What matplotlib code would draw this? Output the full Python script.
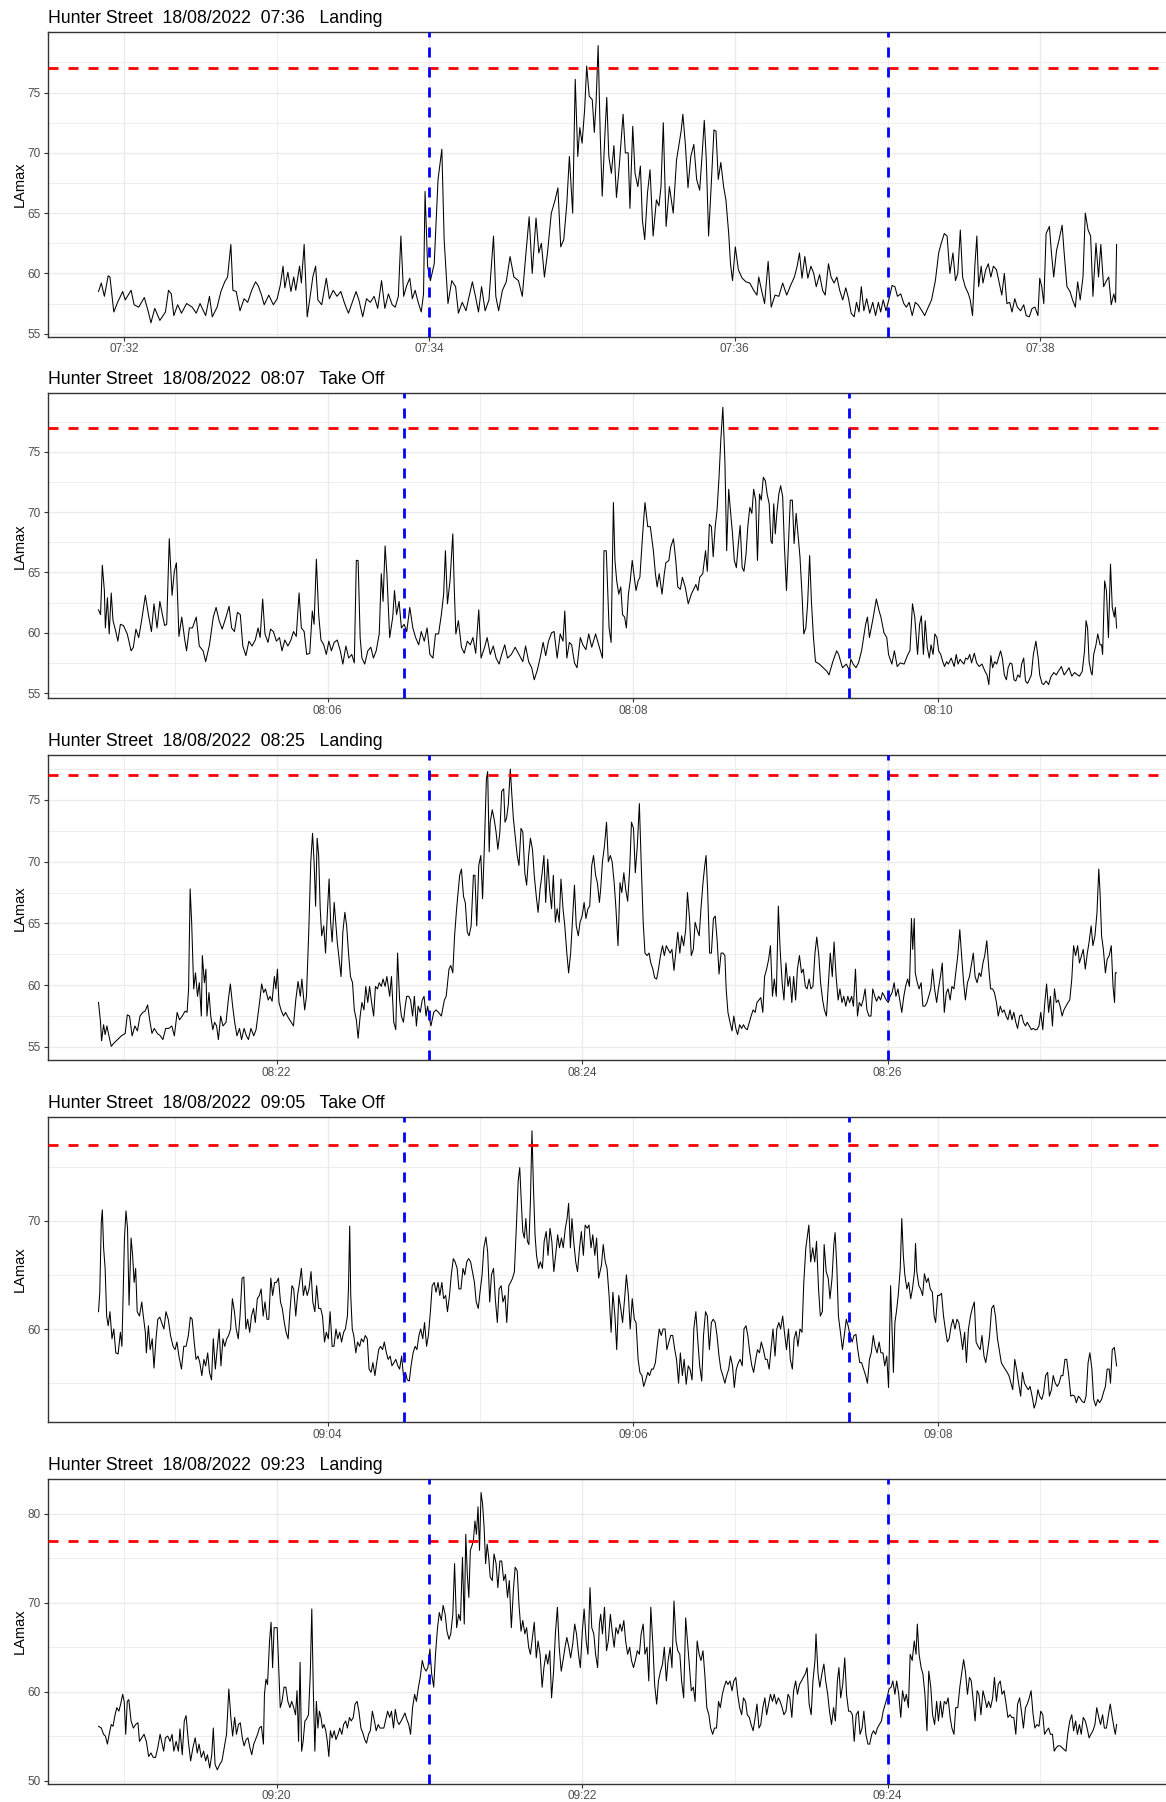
import matplotlib.pyplot as plt
import matplotlib.dates as mdates
import numpy as np
import pandas as pd

plt.rcParams['font.family'] = ['Liberation Sans', 'DejaVu Sans']

# rows: seconds after first sample, LAmax (dB)
ev_0736 = np.array([
    [0, 58.5], [1.1, 59.2], [2.3, 58.1], [3.8, 59.8], [4.5, 59.7], [6.0, 56.8], [7.5, 57.6], [9.5, 58.5],
    [10.5, 57.8], [12.8, 58.6], [14.0, 57.4], [15.8, 57.2], [18.0, 58.0], [19.6, 56.8], [20.6, 55.9],
    [22.1, 57.1], [24.1, 56.1], [26.3, 56.8], [27.5, 58.6], [28.6, 58.3], [29.6, 56.5], [31.1, 57.4],
    [32.6, 56.7], [34.6, 57.5], [36.8, 57.2], [38.4, 56.7], [39.9, 57.5], [42.1, 56.5], [43.6, 58.1],
    [44.7, 56.4], [46.6, 57.2], [48.1, 58.5], [49.6, 59.3], [50.7, 59.7], [52.0, 62.4], [52.8, 58.6],
    [54.1, 58.5], [55.6, 56.9], [57.2, 57.9], [58.6, 57.6], [60.2, 58.6], [61.7, 59.3], [62.7, 59.0],
    [63.9, 58.3], [65.1, 57.4], [66.9, 58.2], [68.7, 57.4], [70.2, 57.9], [71.4, 59.0], [72.5, 60.6],
    [73.2, 58.8], [74.4, 60.1], [75.6, 58.5], [76.7, 59.7], [77.5, 58.6], [79.0, 60.6], [79.7, 59.2],
    [80.8, 62.4], [82.0, 56.4], [83.5, 58.6], [84.2, 59.7], [85.3, 60.6], [86.2, 57.8], [87.7, 57.4],
    [89.5, 59.6], [90.7, 57.9], [92.2, 58.6], [93.7, 58.1], [95.2, 58.5], [96.7, 57.5], [98.2, 56.7],
    [99.7, 57.6], [101.2, 58.5], [102.3, 57.8], [103.8, 56.4], [105.3, 57.9], [106.8, 57.6], [108.3, 58.1],
    [109.7, 57.1], [111.2, 59.4], [112.5, 57.1], [113.9, 58.3], [115.4, 57.4], [116.6, 57.2], [117.8, 58.1],
    [118.8, 63.1], [119.9, 58.1], [121.1, 59.0], [122.3, 59.6], [123.3, 57.9], [124.4, 58.6], [125.6, 57.6],
    [126.8, 56.8], [127.7, 58.3], [128.3, 66.8], [129.3, 60.6], [130.4, 59.4], [131.9, 60.8], [133.4, 67.8],
    [134.9, 70.3], [135.8, 62.8], [136.6, 60.0], [137.3, 57.5], [138.8, 59.4], [140.3, 58.9], [141.4, 56.7],
    [142.9, 57.6], [144.4, 56.9], [145.4, 57.9], [146.9, 59.3], [148.1, 58.1], [149.3, 56.8], [150.5, 58.9],
    [151.9, 56.9], [153.4, 57.8], [155.2, 63.1], [156.1, 58.1], [157.2, 56.9], [158.7, 58.6], [160.2, 59.3],
    [161.7, 61.4], [163.2, 59.7], [165.0, 59.4], [166.5, 58.1], [167.7, 61.1], [169.2, 64.7], [170.4, 60.0],
    [171.9, 64.6], [173.0, 61.7], [174.0, 62.5], [175.2, 59.7], [176.4, 61.7], [177.9, 65.0], [179.4, 66.1],
    [180.5, 67.1], [181.6, 62.2], [182.8, 62.8], [184.0, 65.8], [185.0, 69.7], [186.3, 65.0], [187.3, 76.1],
    [188.3, 69.7], [189.1, 72.1], [190.0, 70.8], [191.0, 73.6], [191.8, 77.2], [192.8, 74.7], [194.0, 74.4],
    [194.8, 71.7], [195.5, 74.2], [196.3, 78.9], [197.1, 71.7], [197.9, 66.4], [199.0, 71.7], [199.7, 74.6],
    [200.5, 69.7], [201.5, 68.3], [202.5, 70.6], [203.5, 66.3], [204.6, 68.9], [206.1, 73.2], [207.0, 70.0],
    [208.1, 70.0], [208.8, 65.4], [209.9, 72.2], [210.8, 68.3], [211.9, 67.2], [212.9, 68.9], [213.7, 64.4],
    [214.6, 62.8], [215.7, 66.7], [216.7, 68.6], [217.9, 63.1], [219.2, 66.1], [220.2, 65.6], [221.0, 67.2],
    [221.9, 72.5], [223.0, 63.9], [224.3, 67.2], [225.8, 65.0], [227.1, 69.4], [228.0, 70.6], [228.9, 71.8],
    [229.6, 73.2], [230.6, 70.6], [231.6, 67.1], [232.7, 69.7], [233.9, 70.7], [235.0, 67.8], [236.2, 66.9],
    [237.2, 70.0], [238.0, 72.7], [238.8, 69.4], [239.7, 63.1], [240.7, 67.2], [241.8, 71.9], [242.6, 71.8],
    [243.5, 67.8], [244.5, 69.2], [245.6, 67.2], [246.5, 66.1], [247.6, 63.3], [248.3, 60.8], [249.1, 59.4],
    [250.2, 62.2], [251.4, 60.3], [252.9, 59.6], [254.4, 59.3], [255.9, 59.2], [257.4, 58.6], [258.7, 58.2],
    [259.4, 59.7], [260.5, 58.6], [261.7, 57.5], [263.1, 61.0], [264.3, 57.2], [265.8, 58.2], [267.3, 58.1],
    [268.8, 59.2], [270.4, 58.2], [271.9, 59.0], [273.4, 59.7], [274.5, 60.6], [275.4, 61.7], [276.4, 59.6],
    [277.5, 61.4], [278.7, 59.6], [279.9, 60.6], [281.0, 60.0], [282.0, 58.9], [283.3, 59.9], [284.5, 58.6],
    [285.5, 58.2], [286.8, 60.8], [287.8, 59.7], [289.0, 59.2], [290.1, 59.7], [291.2, 58.6], [292.4, 57.8],
    [293.6, 58.8], [294.7, 57.9], [295.7, 56.7], [296.9, 56.4], [297.8, 57.6], [298.8, 56.8], [299.7, 58.9],
    [300.7, 56.9], [301.8, 57.9], [303.0, 56.7], [304.2, 57.6], [305.3, 56.5], [306.4, 57.6], [307.3, 56.8],
    [308.3, 57.8], [309.4, 56.9], [310.6, 57.9], [311.8, 59.0], [312.9, 58.9], [313.9, 58.1], [315.2, 58.3],
    [316.4, 57.5], [317.4, 57.2], [318.5, 57.6], [319.7, 56.5], [320.9, 57.6], [322.0, 57.4], [323.5, 56.9],
    [324.6, 56.5], [325.8, 57.1], [327.3, 57.8], [328.8, 59.4], [330.1, 61.7], [331.1, 62.5], [332.3, 63.3],
    [333.4, 63.1], [334.5, 60.0], [335.7, 61.7], [336.7, 59.4], [337.6, 60.0], [338.6, 63.6], [339.5, 59.7],
    [340.5, 58.9], [341.8, 58.3], [342.5, 57.8], [343.4, 56.5], [344.3, 60.6], [345.1, 63.1], [345.8, 58.9],
    [346.8, 60.6], [347.5, 59.2], [348.6, 60.3], [349.6, 60.8], [350.6, 59.7], [351.6, 60.6], [352.8, 60.3],
    [353.9, 59.2], [354.9, 58.2], [355.9, 60.0], [356.9, 57.5], [358.0, 57.6], [358.9, 56.8], [360.0, 57.9],
    [361.0, 57.2], [362.3, 56.9], [363.5, 57.4], [364.5, 56.5], [365.7, 56.4], [366.8, 57.1], [367.9, 57.2],
    [369.1, 56.5], [369.8, 59.6], [370.6, 58.9], [371.4, 57.5], [372.3, 63.3], [373.6, 63.9], [374.4, 61.7],
    [375.3, 59.7], [376.4, 61.9], [377.4, 62.8], [378.6, 64.0], [379.4, 61.7], [380.5, 58.9], [381.7, 58.5],
    [382.7, 57.8], [383.8, 57.2], [384.7, 59.3], [385.7, 57.8], [386.8, 59.7], [387.7, 65.0], [388.8, 63.6],
    [389.8, 63.1], [390.7, 58.1], [391.9, 62.5], [392.9, 59.7], [393.8, 62.4], [394.9, 58.9], [396.0, 59.4],
    [396.9, 59.7], [397.9, 57.4], [398.9, 58.3], [399.6, 57.6], [400.0, 62.4],
])

ev_0807 = np.array([
    [0, 61.9], [0.8, 61.5], [1.5, 65.6], [2.3, 63.5], [2.7, 60.4], [3.5, 62.9], [4.2, 59.9], [5.0, 63.3],
    [5.7, 61.0], [6.8, 60.1], [7.6, 59.3], [8.6, 60.7], [9.8, 60.6], [11.3, 59.9], [12.8, 58.5], [13.7, 58.8],
    [14.7, 60.3], [15.8, 59.6], [17.0, 61.1], [18.4, 63.1], [19.6, 61.5], [20.8, 60.1], [21.8, 62.4],
    [23.0, 60.4], [24.1, 62.6], [25.1, 61.5], [26.0, 60.6], [26.8, 60.7], [27.8, 67.8], [28.9, 63.1],
    [29.8, 65.1], [30.6, 65.8], [31.6, 59.7], [32.7, 61.3], [33.9, 59.4], [34.6, 58.5], [35.7, 60.4],
    [36.9, 60.4], [38.4, 61.3], [39.6, 58.9], [41.1, 58.5], [42.1, 57.6], [43.6, 59.0], [45.1, 61.3],
    [46.2, 62.1], [47.4, 61.0], [48.6, 60.3], [50.1, 61.3], [51.3, 62.2], [52.3, 60.4], [53.4, 60.1],
    [54.6, 61.7], [55.7, 61.5], [56.7, 58.9], [57.9, 58.1], [59.1, 59.3], [60.3, 58.9], [61.6, 59.4],
    [62.7, 60.4], [63.5, 59.6], [64.5, 62.8], [65.4, 59.9], [66.6, 59.2], [67.6, 60.3], [68.7, 60.1],
    [69.9, 59.3], [71.1, 59.6], [72.1, 58.5], [73.2, 59.4], [74.4, 58.9], [75.6, 59.4], [76.6, 60.1],
    [77.7, 59.7], [78.8, 63.3], [79.7, 60.4], [80.8, 60.1], [81.8, 58.2], [83.0, 58.3], [84.0, 61.8],
    [84.7, 60.7], [85.6, 66.1], [86.5, 61.5], [87.4, 59.4], [88.5, 59.0], [89.5, 58.2], [90.5, 59.3],
    [91.5, 58.5], [92.6, 59.2], [93.8, 59.4], [95.0, 58.5], [96.0, 57.4], [97.2, 58.9], [98.3, 57.9],
    [99.5, 58.2], [100.5, 57.5], [101.3, 66.0], [102.0, 66.0], [102.8, 59.6], [103.5, 57.9], [104.6, 57.4],
    [105.8, 58.5], [107.0, 58.8], [108.0, 57.9], [109.1, 58.5], [110.3, 59.9], [111.1, 64.9], [111.8, 62.6],
    [112.6, 67.2], [113.3, 64.9], [114.4, 59.6], [115.6, 61.3], [116.3, 63.5], [117.1, 61.5], [118.1, 62.6],
    [119.0, 60.4], [120.1, 60.7], [121.1, 60.1], [122.3, 62.1], [123.5, 60.4], [124.6, 59.6], [125.8, 59.0],
    [126.8, 60.1], [128.0, 59.3], [129.1, 60.4], [130.2, 58.2], [131.4, 57.9], [132.4, 59.9], [133.6, 59.9],
    [134.7, 61.5], [135.6, 63.2], [136.3, 66.8], [137.1, 62.4], [138.1, 64.3], [139.2, 68.2], [139.8, 63.5],
    [140.4, 59.9], [141.4, 61.0], [142.6, 58.8], [143.7, 58.3], [144.9, 59.3], [146.1, 59.0], [147.1, 59.6],
    [148.2, 58.3], [149.4, 61.9], [150.3, 57.9], [151.7, 58.8], [152.7, 59.6], [153.9, 58.2], [155.1, 58.9],
    [156.2, 57.9], [157.4, 57.4], [158.4, 58.2], [159.6, 59.0], [160.7, 57.9], [162.2, 58.2], [163.7, 58.8],
    [165.2, 58.2], [166.7, 57.6], [167.8, 58.9], [169.0, 57.6], [170.2, 57.1], [171.2, 56.1], [172.4, 56.9],
    [173.5, 57.9], [174.7, 59.2], [175.7, 58.1], [176.8, 59.3], [178.0, 60.0], [179.0, 60.1], [180.2, 57.9],
    [181.4, 59.9], [182.5, 59.3], [183.2, 61.8], [184.0, 57.9], [185.0, 59.2], [185.9, 59.0], [187.0, 57.5],
    [188.0, 57.1], [189.3, 59.6], [190.3, 59.0], [191.5, 58.6], [192.6, 59.9], [193.8, 58.8], [195.3, 59.9],
    [198.0, 57.9], [198.6, 66.8], [199.5, 66.8], [200.6, 60.4], [201.4, 59.2], [202.3, 70.8], [202.9, 66.0],
    [203.6, 64.3], [204.4, 63.2], [205.2, 63.8], [205.9, 61.5], [206.7, 61.3], [207.4, 60.4], [208.2, 63.2],
    [208.9, 64.3], [209.7, 66.0], [210.5, 64.6], [211.2, 63.5], [212.0, 64.3], [212.7, 64.6], [213.8, 68.2],
    [214.7, 70.8], [215.8, 68.8], [216.8, 68.8], [218.0, 66.8], [218.8, 64.9], [219.5, 63.8], [220.3, 64.9],
    [221.4, 63.2], [222.3, 64.9], [222.9, 65.8], [224.1, 66.0], [224.8, 67.1], [225.9, 67.8], [226.8, 66.0],
    [227.6, 63.8], [228.6, 63.6], [229.4, 64.6], [230.5, 63.8], [231.7, 62.4], [232.9, 63.2], [233.6, 63.5],
    [234.7, 64.0], [235.5, 63.5], [236.2, 64.6], [237.4, 64.9], [238.5, 66.8], [239.2, 65.1], [240.0, 69.0],
    [240.8, 68.8], [241.5, 66.3], [242.3, 68.8], [243.0, 70.1], [243.8, 72.9], [244.5, 76.0], [245.3, 78.7],
    [246.1, 74.3], [246.8, 66.8], [247.6, 71.9], [248.3, 70.1], [249.1, 68.2], [249.8, 66.0], [250.6, 65.4],
    [251.4, 67.4], [252.1, 68.9], [252.9, 65.4], [253.6, 65.1], [254.4, 66.5], [255.1, 68.8], [255.9, 70.4],
    [256.7, 69.9], [257.4, 71.9], [258.2, 71.0], [258.9, 66.0], [259.7, 71.5], [260.4, 71.0], [261.2, 72.9],
    [262.0, 72.6], [262.7, 71.5], [263.5, 70.7], [264.2, 67.6], [264.7, 67.4], [265.3, 70.7], [265.9, 68.2],
    [266.5, 69.9], [267.3, 71.5], [268.0, 72.2], [268.8, 71.3], [269.5, 67.1], [270.3, 63.5], [271.1, 67.4],
    [271.8, 71.0], [272.6, 71.0], [273.3, 67.4], [274.1, 69.9], [274.8, 68.2], [275.6, 66.3], [276.4, 63.2],
    [277.1, 59.9], [277.9, 60.4], [278.6, 62.4], [279.4, 66.4], [280.1, 62.6], [280.9, 59.6], [281.7, 57.6],
    [283.2, 57.4], [284.7, 57.1], [286.2, 56.8], [287.0, 56.5], [288.5, 57.6], [290.0, 58.5], [290.8, 58.2],
    [292.3, 57.1], [293.8, 57.4], [295.0, 56.9], [295.6, 57.8], [296.5, 57.4], [297.6, 57.1], [298.6, 57.5],
    [299.8, 58.5], [301.4, 60.7], [302.1, 61.3], [302.9, 59.6], [304.4, 61.3], [305.6, 62.8], [306.7, 61.8],
    [307.4, 61.3], [308.6, 60.0], [309.7, 59.6], [310.4, 58.2], [311.7, 57.4], [312.7, 58.5], [313.8, 57.2],
    [315.0, 57.5], [316.5, 57.4], [318.0, 58.2], [318.8, 58.5], [319.8, 62.4], [320.7, 61.3], [321.8, 58.2],
    [322.6, 60.7], [323.3, 61.4], [324.1, 58.2], [324.8, 61.0], [325.6, 58.8], [326.4, 57.9], [327.1, 59.0],
    [327.9, 58.2], [328.6, 59.9], [329.4, 59.6], [330.1, 58.5], [330.9, 58.2], [331.7, 57.6], [332.4, 57.2],
    [333.2, 57.6], [333.9, 57.4], [335.0, 57.9], [336.2, 57.2], [337.0, 58.2], [337.7, 57.4], [338.5, 57.8],
    [339.2, 57.6], [340.0, 57.4], [340.7, 57.9], [341.5, 57.8], [342.3, 58.2], [343.0, 57.5], [344.1, 58.3],
    [345.0, 57.5], [346.0, 57.2], [347.1, 57.4], [348.3, 56.8], [349.1, 56.5], [349.8, 55.7], [350.6, 58.1],
    [351.3, 57.1], [352.1, 57.6], [352.9, 57.4], [353.6, 57.9], [354.4, 58.5], [355.1, 57.9], [355.9, 56.5],
    [356.7, 56.1], [357.4, 57.1], [358.2, 57.5], [358.9, 57.4], [359.7, 56.1], [360.4, 56.0], [361.2, 56.5],
    [362.0, 56.3], [362.7, 57.4], [363.5, 57.9], [364.2, 56.0], [365.0, 55.8], [365.7, 56.1], [366.5, 56.5],
    [367.3, 58.2], [368.3, 59.3], [369.2, 57.9], [369.8, 56.5], [370.7, 55.8], [371.3, 55.7], [372.3, 56.0],
    [373.3, 55.7], [374.1, 56.3], [375.3, 56.7], [376.3, 56.5], [377.1, 56.8], [378.3, 57.2], [379.4, 56.5],
    [380.1, 56.7], [381.3, 57.1], [382.4, 56.4], [383.5, 56.7], [384.7, 56.5], [385.4, 56.4], [386.5, 56.8],
    [387.4, 58.5], [388.0, 61.0], [388.6, 60.4], [389.2, 57.6], [390.0, 56.7], [390.4, 56.5], [391.0, 58.2],
    [391.9, 59.0], [392.6, 59.9], [393.5, 59.0], [394.1, 59.0], [394.5, 58.2], [395.3, 64.3], [396.0, 63.5],
    [396.8, 59.6], [397.6, 65.7], [398.3, 62.1], [399.1, 61.3], [399.5, 62.1], [400.0, 60.4],
])

ev_0825 = np.array([
    [0, 58.6], [0.8, 57.0], [1.2, 55.5], [2.0, 56.8], [2.6, 56.0], [3.3, 56.7], [4.1, 55.9], [5.0, 55.05],
    [6.0, 55.3], [7.5, 55.6], [9.0, 55.9], [10.5, 56.1], [11.3, 57.6], [12.2, 57.5], [13.2, 55.9], [14.3, 56.7],
    [15.3, 56.3], [16.3, 57.5], [17.4, 57.8], [18.3, 57.9], [19.3, 58.4], [20.1, 57.2], [21.0, 56.1],
    [21.9, 56.5], [23.1, 56.1], [24.3, 55.9], [25.3, 55.6], [26.4, 56.5], [27.6, 56.5], [28.8, 56.7],
    [29.8, 55.9], [30.9, 57.8], [31.8, 57.2], [32.9, 57.5], [34.0, 57.9], [34.8, 57.8], [35.4, 59.7],
    [36.0, 67.8], [36.6, 65.1], [37.4, 59.7], [38.1, 61.0], [38.9, 59.1], [39.6, 60.2], [40.4, 57.5],
    [40.8, 62.4], [41.6, 60.2], [42.2, 61.3], [42.6, 57.5], [43.4, 59.4], [44.1, 57.5], [44.9, 56.4],
    [45.6, 57.0], [46.4, 56.7], [47.1, 55.6], [48.0, 57.5], [48.9, 56.7], [50.1, 57.0], [51.0, 58.8],
    [51.8, 60.1], [52.7, 58.3], [53.5, 57.0], [54.4, 55.9], [55.4, 56.5], [56.2, 55.6], [57.2, 56.5],
    [58.1, 55.9], [58.9, 55.6], [59.9, 56.5], [61.0, 55.9], [61.9, 56.4], [62.6, 57.5], [63.4, 58.8],
    [64.1, 60.1], [64.9, 59.4], [65.6, 59.7], [66.7, 58.8], [67.4, 59.1], [68.2, 58.7], [69.1, 60.7],
    [69.7, 59.7], [70.3, 61.3], [70.9, 58.6], [71.7, 58.0], [72.7, 57.5], [73.5, 57.8], [74.5, 57.4],
    [75.7, 57.0], [76.6, 56.7], [77.5, 58.8], [78.4, 60.3], [79.3, 59.1], [79.9, 60.5], [81.0, 58.0],
    [81.7, 59.1], [82.6, 64.3], [83.4, 70.0], [84.1, 72.3], [84.7, 70.0], [85.3, 66.4], [85.9, 71.9],
    [86.5, 70.5], [87.1, 66.2], [87.7, 64.0], [88.5, 64.8], [89.2, 62.6], [90.0, 66.2], [90.6, 68.6],
    [91.2, 65.1], [91.8, 63.5], [92.6, 66.7], [93.2, 65.1], [93.8, 63.5], [94.7, 61.8], [95.3, 60.7],
    [96.0, 64.3], [96.8, 65.9], [97.5, 64.8], [98.3, 62.4], [99.0, 60.7], [99.8, 60.2], [100.5, 58.0],
    [101.3, 57.2], [102.0, 55.7], [102.8, 57.5], [103.5, 58.6], [104.3, 58.0], [105.0, 59.9], [105.8, 58.6],
    [106.5, 59.9], [107.3, 58.6], [108.1, 57.5], [108.8, 59.9], [109.6, 59.7], [110.3, 60.2], [111.1, 59.9],
    [111.8, 60.5], [112.6, 59.9], [113.3, 60.7], [114.4, 59.1], [115.1, 60.7], [116.0, 57.0], [116.8, 56.4],
    [117.5, 62.6], [118.3, 58.8], [119.0, 57.5], [119.8, 57.0], [120.5, 58.3], [121.1, 59.1], [121.9, 59.1],
    [122.6, 58.8], [123.4, 57.5], [124.1, 59.1], [124.9, 56.7], [125.6, 58.3], [126.4, 57.8], [127.2, 58.8],
    [127.9, 59.1], [128.7, 57.5], [129.3, 58.3], [129.9, 57.5], [130.6, 56.7], [131.7, 57.8], [132.6, 58.0],
    [133.6, 57.8], [134.7, 57.5], [135.9, 58.8], [136.6, 59.1], [137.7, 61.3], [138.4, 61.6], [139.2, 61.0],
    [139.9, 64.0], [140.7, 66.2], [141.9, 68.9], [142.6, 69.4], [143.4, 67.2], [144.1, 66.7], [144.9, 64.3],
    [145.6, 64.0], [146.4, 64.8], [147.3, 68.9], [147.9, 68.9], [148.6, 64.8], [149.4, 69.7], [150.2, 70.5],
    [150.9, 67.0], [151.7, 71.9], [152.4, 76.7], [152.9, 77.3], [153.5, 70.8], [153.9, 73.2], [154.7, 74.2],
    [155.4, 73.5], [156.2, 72.4], [156.9, 71.0], [157.7, 72.4], [158.4, 75.7], [159.2, 75.9], [159.7, 73.2],
    [160.3, 73.5], [161.0, 74.6], [161.8, 77.5], [162.4, 75.4], [163.0, 73.5], [163.7, 72.1], [164.5, 70.5],
    [165.2, 69.7], [166.0, 72.7], [166.7, 72.4], [167.5, 69.1], [168.2, 68.1], [169.0, 70.5], [169.7, 71.9],
    [170.5, 71.0], [171.2, 68.9], [172.0, 67.2], [172.7, 65.9], [173.5, 67.8], [174.2, 68.9], [175.0, 70.5],
    [175.7, 66.7], [176.5, 70.2], [177.2, 67.8], [178.0, 66.2], [178.7, 68.9], [179.5, 65.1], [180.2, 66.2],
    [181.0, 65.1], [181.7, 68.6], [182.5, 66.2], [183.2, 64.8], [184.0, 62.6], [184.7, 61.0], [185.5, 62.6],
    [186.2, 65.1], [187.0, 68.1], [187.7, 64.8], [188.5, 64.0], [189.2, 65.1], [190.0, 65.6], [190.8, 66.7],
    [191.5, 65.4], [192.3, 66.2], [193.0, 66.4], [193.8, 69.7], [194.5, 70.5], [195.3, 68.9], [196.0, 68.3],
    [196.8, 66.7], [197.3, 67.8], [198.0, 70.0], [198.8, 71.3], [199.6, 73.2], [200.3, 70.0], [201.1, 70.5],
    [201.8, 70.0], [202.6, 68.3], [203.3, 66.2], [204.1, 63.2], [204.9, 68.3], [205.6, 67.5], [206.4, 69.1],
    [207.1, 67.8], [207.9, 66.8], [208.7, 69.4], [209.4, 73.2], [210.2, 72.7], [210.9, 69.1], [211.7, 71.3],
    [212.5, 74.7], [213.2, 70.0], [214.0, 65.1], [214.7, 62.6], [215.5, 62.4], [216.3, 62.6], [217.0, 61.8],
    [217.8, 61.3], [218.5, 60.6], [219.3, 60.5], [220.0, 61.3], [220.8, 62.4], [221.6, 63.2], [222.3, 62.4],
    [223.1, 63.2], [223.8, 62.9], [224.6, 62.6], [225.3, 62.9], [226.1, 61.2], [226.9, 62.9], [227.6, 64.3],
    [228.4, 62.6], [229.1, 64.0], [229.9, 63.2], [230.7, 64.5], [231.4, 67.5], [232.2, 65.4], [232.9, 62.4],
    [233.7, 62.9], [234.4, 65.1], [235.2, 64.5], [236.0, 64.0], [236.7, 66.2], [237.5, 68.3], [238.2, 69.7],
    [238.7, 70.5], [239.3, 67.8], [240.1, 62.6], [240.8, 62.6], [241.6, 65.4], [242.3, 65.6], [243.1, 63.5],
    [243.8, 60.9], [244.6, 62.6], [245.4, 62.6], [246.1, 62.4], [246.6, 59.7], [247.3, 57.8], [248.1, 57.0],
    [248.9, 56.3], [249.6, 57.5], [250.4, 56.5], [251.1, 56.0], [251.9, 56.8], [252.7, 56.5], [253.4, 56.8],
    [254.2, 56.5], [254.9, 56.4], [255.7, 57.0], [256.4, 57.5], [257.2, 58.0], [258.0, 57.8], [258.7, 58.6],
    [259.5, 58.8], [260.2, 59.0], [261.0, 57.8], [261.7, 60.7], [262.5, 61.3], [263.3, 62.1], [264.0, 63.2],
    [264.8, 59.1], [265.5, 60.5], [266.3, 59.1], [267.1, 66.4], [267.8, 62.9], [268.6, 60.2], [269.3, 58.8],
    [270.1, 61.8], [270.9, 59.9], [271.6, 60.7], [272.4, 58.6], [273.1, 60.7], [273.9, 58.8], [274.6, 61.3],
    [275.4, 62.4], [276.2, 61.0], [276.9, 61.3], [277.7, 59.9], [278.4, 59.7], [279.2, 60.5], [279.9, 59.7],
    [280.7, 59.9], [281.5, 62.6], [282.2, 63.9], [283.0, 62.4], [283.7, 60.2], [284.5, 58.8], [285.2, 58.0],
    [286.0, 57.5], [286.8, 60.2], [287.5, 62.6], [288.3, 60.7], [289.0, 63.5], [289.8, 60.7], [290.6, 58.8],
    [291.3, 59.7], [292.1, 58.6], [292.8, 59.1], [293.6, 58.3], [294.4, 59.1], [295.1, 58.6], [295.9, 59.1],
    [296.6, 58.3], [297.4, 61.3], [298.2, 57.5], [298.9, 58.6], [299.7, 58.3], [300.4, 58.8], [301.2, 59.7],
    [301.9, 58.0], [302.7, 57.5], [303.5, 57.5], [304.2, 59.7], [305.0, 59.1], [305.7, 58.7], [306.5, 59.1],
    [307.3, 58.8], [308.0, 59.4], [308.8, 59.1], [309.5, 58.8], [310.3, 58.6], [311.0, 59.1], [311.8, 59.4],
    [312.6, 60.2], [313.3, 59.1], [314.1, 59.7], [314.8, 58.8], [315.6, 57.8], [316.4, 59.1], [317.1, 59.9],
    [317.9, 60.5], [318.6, 59.9], [319.4, 65.4], [319.9, 62.9], [320.5, 65.4], [320.9, 61.0], [321.7, 60.2],
    [322.4, 59.7], [323.2, 60.2], [323.9, 58.3], [324.7, 58.3], [325.5, 58.6], [326.2, 59.1], [327.0, 59.7],
    [327.7, 61.3], [328.5, 59.7], [329.3, 58.6], [330.0, 59.7], [330.8, 60.7], [331.5, 61.8], [332.3, 57.8],
    [333.1, 59.4], [333.8, 59.7], [334.6, 58.8], [335.3, 59.9], [336.1, 59.7], [336.8, 61.0], [337.6, 62.4],
    [338.4, 64.5], [339.1, 62.4], [339.9, 60.2], [340.6, 58.8], [341.4, 60.2], [342.2, 60.7], [342.9, 61.6],
    [343.7, 62.6], [344.4, 60.7], [345.2, 60.2], [346.0, 61.0], [346.7, 60.7], [347.5, 61.8], [348.2, 62.4],
    [349.0, 63.6], [349.8, 61.3], [350.5, 59.7], [351.3, 59.7], [352.0, 59.4], [352.8, 58.6], [353.5, 57.5],
    [354.3, 58.3], [355.1, 57.8], [355.8, 58.0], [356.6, 57.5], [357.3, 57.2], [358.1, 58.0], [358.9, 57.2],
    [359.6, 57.8], [360.4, 57.0], [361.1, 56.5], [361.9, 57.5], [362.7, 57.6], [363.4, 57.0], [364.2, 56.7],
    [364.9, 57.0], [365.7, 56.7], [366.5, 56.4], [367.2, 56.5], [368.0, 56.4], [368.7, 56.4], [369.5, 56.7],
    [370.2, 57.8], [371.0, 56.4], [371.8, 58.6], [372.5, 60.1], [373.3, 57.8], [374.0, 59.1], [374.8, 56.7],
    [375.6, 59.7], [376.3, 58.6], [377.1, 58.8], [377.8, 58.3], [378.6, 57.5], [379.3, 58.0], [380.1, 58.3],
    [380.9, 58.6], [381.6, 58.8], [382.4, 60.5], [383.1, 63.2], [383.9, 62.4], [384.7, 63.2], [385.4, 61.8],
    [386.2, 62.4], [386.9, 62.9], [387.7, 61.3], [388.5, 62.6], [389.2, 63.5], [390.0, 64.8], [390.7, 63.2],
    [391.5, 64.0], [392.3, 65.9], [393.0, 69.4], [393.5, 67.5], [394.1, 64.0], [394.8, 62.9], [395.6, 61.0],
    [396.3, 62.1], [397.1, 62.4], [397.9, 63.2], [398.6, 59.9], [399.2, 58.6], [399.5, 61.0], [400.0, 61.0],
])

ev_0905 = np.array([
    [0, 61.6], [0.5, 63.4], [1.1, 69.9], [1.5, 71.0], [2.0, 67.5], [2.6, 65.6], [3.2, 61.2], [3.8, 60.3],
    [4.5, 61.6], [5.3, 59.1], [6.0, 60.0], [6.8, 57.8], [7.7, 57.7], [8.6, 59.7], [9.2, 58.4], [9.8, 64.3],
    [10.2, 68.4], [10.8, 70.9], [11.4, 69.3], [12.0, 62.2], [12.8, 68.4], [13.4, 66.8], [14.0, 64.3],
    [14.6, 65.6], [15.2, 61.6], [16.1, 61.2], [17.0, 62.5], [17.6, 61.2], [18.4, 59.7], [18.8, 57.8],
    [19.6, 60.3], [20.3, 58.1], [21.1, 59.1], [21.8, 56.4], [22.6, 59.1], [23.3, 60.9], [24.1, 61.1],
    [24.8, 60.6], [25.7, 60.0], [26.5, 61.6], [27.4, 60.9], [28.3, 59.4], [29.3, 58.4], [30.1, 58.1],
    [30.8, 58.8], [31.6, 57.5], [32.6, 56.3], [33.5, 58.4], [34.4, 58.4], [35.3, 59.4], [36.1, 61.1],
    [36.8, 60.9], [37.6, 58.8], [38.3, 57.2], [39.1, 57.5], [39.8, 56.9], [40.6, 55.7], [41.4, 57.2],
    [42.1, 56.6], [42.9, 57.8], [43.6, 56.0], [44.4, 55.3], [45.1, 59.1], [45.9, 56.3], [46.6, 58.1],
    [47.4, 60.0], [48.1, 56.6], [48.9, 59.1], [49.6, 58.4], [50.4, 59.1], [51.1, 59.4], [51.9, 60.0],
    [52.6, 62.8], [53.4, 61.6], [54.1, 60.0], [54.9, 59.1], [55.6, 61.2], [56.4, 64.7], [57.1, 64.8],
    [57.9, 60.0], [58.6, 60.9], [59.4, 59.7], [60.1, 61.2], [60.9, 61.9], [61.6, 60.6], [62.4, 62.8],
    [63.2, 63.1], [63.9, 63.7], [64.7, 61.2], [65.4, 62.5], [66.2, 60.9], [66.9, 60.9], [67.7, 64.7],
    [68.4, 63.1], [69.2, 64.3], [69.9, 64.3], [70.7, 64.7], [71.5, 62.5], [72.2, 61.9], [73.0, 60.6],
    [73.7, 59.7], [74.5, 59.1], [75.2, 61.6], [76.0, 64.0], [76.7, 63.7], [77.5, 61.2], [78.2, 63.1],
    [79.0, 64.3], [79.7, 65.6], [80.5, 63.1], [81.2, 64.0], [82.0, 63.1], [82.7, 63.7], [83.5, 65.3],
    [84.2, 62.5], [85.0, 61.6], [85.7, 64.0], [86.5, 61.9], [87.3, 61.9], [88.0, 61.2], [88.8, 58.8],
    [89.5, 59.7], [90.3, 59.1], [91.0, 61.6], [91.8, 58.4], [92.5, 58.4], [93.3, 60.0], [94.0, 59.1],
    [94.8, 59.7], [95.5, 58.8], [96.3, 59.7], [97.0, 60.0], [97.8, 61.2], [98.2, 63.7], [98.7, 69.5],
    [99.1, 63.1], [99.7, 60.0], [100.3, 59.4], [101.1, 57.8], [101.8, 58.8], [102.6, 58.4], [103.3, 59.1],
    [104.1, 58.8], [104.8, 59.4], [105.6, 59.1], [106.3, 56.3], [107.1, 56.0], [107.8, 56.9], [108.6, 55.7],
    [109.3, 56.9], [110.1, 58.1], [110.8, 58.4], [111.6, 58.1], [112.3, 58.8], [113.1, 57.8], [113.8, 57.2],
    [114.6, 57.5], [115.3, 56.6], [116.1, 56.9], [116.8, 57.2], [117.6, 56.6], [118.3, 56.3], [119.1, 57.5],
    [119.8, 55.7], [120.6, 56.0], [121.3, 55.3], [122.1, 55.2], [122.8, 56.6], [123.6, 57.8], [124.4, 58.4],
    [125.1, 58.1], [125.9, 59.4], [126.6, 60.0], [127.4, 59.1], [128.1, 60.6], [128.9, 58.4], [129.6, 59.4],
    [130.4, 61.6], [131.1, 64.0], [131.9, 64.3], [132.6, 63.4], [133.4, 64.3], [134.1, 63.1], [134.9, 64.3],
    [135.6, 62.8], [136.4, 63.1], [137.1, 61.6], [137.9, 63.1], [138.6, 65.0], [139.4, 66.5], [140.1, 66.2],
    [140.9, 65.6], [141.6, 63.7], [142.4, 63.7], [143.2, 65.6], [143.9, 65.0], [144.7, 66.2], [145.4, 66.5],
    [146.2, 66.2], [146.9, 65.3], [147.7, 64.3], [148.4, 62.5], [149.2, 61.9], [149.9, 63.4], [150.7, 65.0],
    [151.4, 67.5], [152.2, 68.5], [152.9, 67.1], [153.7, 62.5], [154.4, 65.0], [155.2, 65.6], [155.9, 62.8],
    [156.7, 60.6], [157.4, 63.7], [158.2, 64.0], [158.9, 62.5], [159.7, 63.1], [160.4, 60.6], [161.2, 64.0],
    [161.9, 64.3], [162.7, 64.7], [163.4, 65.3], [164.2, 69.6], [164.9, 73.7], [165.5, 74.9], [166.1, 71.8],
    [166.7, 69.0], [167.3, 68.4], [167.9, 70.2], [168.5, 68.1], [169.1, 67.8], [169.7, 71.8], [170.3, 78.3],
    [170.9, 73.0], [171.5, 68.7], [172.1, 66.8], [172.9, 65.6], [173.6, 66.2], [174.4, 65.6], [175.1, 68.1],
    [175.9, 69.0], [176.6, 66.8], [177.4, 69.3], [178.1, 68.1], [178.9, 65.3], [179.6, 66.8], [180.4, 68.7],
    [181.1, 67.5], [181.9, 68.4], [182.6, 67.5], [183.4, 69.3], [184.1, 70.2], [184.7, 71.6], [185.4, 67.5],
    [186.0, 70.2], [186.7, 68.1], [187.5, 66.2], [188.2, 65.3], [189.0, 67.5], [189.7, 69.0], [190.5, 66.8],
    [191.2, 69.6], [192.0, 69.3], [192.7, 69.6], [193.5, 67.5], [194.2, 68.7], [195.0, 66.8], [195.7, 68.4],
    [196.5, 64.7], [197.6, 65.9], [198.3, 67.8], [199.1, 66.2], [199.8, 65.6], [200.6, 63.1], [201.4, 59.7],
    [202.1, 63.4], [202.9, 61.2], [203.6, 58.1], [204.4, 63.1], [205.2, 61.9], [205.9, 60.6], [206.7, 62.8],
    [207.4, 65.0], [208.2, 63.1], [208.9, 60.0], [209.7, 62.8], [210.5, 60.9], [211.2, 60.6], [212.0, 57.2],
    [212.7, 56.0], [213.5, 55.7], [214.2, 54.7], [215.0, 55.3], [215.8, 56.0], [216.5, 55.7], [217.3, 56.3],
    [218.0, 56.3], [218.8, 56.9], [219.5, 58.4], [220.3, 60.0], [221.1, 59.4], [221.8, 60.0], [222.6, 60.0],
    [223.3, 58.1], [224.1, 58.8], [224.8, 59.4], [225.6, 59.4], [226.4, 58.1], [227.1, 57.2], [227.9, 55.0],
    [228.6, 57.8], [229.4, 55.7], [230.1, 57.2], [230.9, 54.9], [231.7, 56.6], [232.4, 56.3], [233.2, 55.3],
    [233.9, 60.0], [234.7, 61.6], [235.5, 58.8], [236.2, 56.6], [237.0, 55.2], [237.7, 59.4], [238.5, 61.6],
    [239.2, 61.2], [240.0, 58.1], [240.8, 60.6], [241.5, 60.9], [242.3, 60.6], [243.0, 59.4], [243.8, 57.5],
    [244.5, 56.3], [245.3, 55.7], [246.1, 55.0], [246.8, 55.7], [247.6, 56.3], [248.3, 57.5], [249.1, 56.6],
    [249.8, 54.6], [250.6, 56.3], [251.4, 56.9], [252.1, 57.2], [252.9, 56.6], [253.6, 60.0], [254.4, 60.3],
    [255.1, 59.4], [255.9, 57.8], [256.7, 56.6], [257.4, 56.0], [258.2, 57.2], [258.9, 58.1], [259.7, 57.8],
    [260.4, 58.8], [261.2, 58.1], [262.0, 57.2], [262.7, 57.2], [263.5, 56.3], [264.2, 58.1], [265.0, 60.0],
    [265.8, 57.5], [266.5, 60.0], [267.3, 60.6], [268.0, 60.0], [268.8, 61.2], [269.5, 59.7], [270.3, 58.1],
    [271.1, 60.0], [271.8, 57.2], [272.6, 56.3], [273.3, 59.1], [274.1, 59.8], [274.8, 58.4], [275.6, 60.0],
    [276.4, 59.7], [277.1, 64.3], [277.9, 67.5], [278.6, 68.7], [279.1, 69.6], [279.8, 66.2], [280.6, 67.5],
    [281.4, 66.2], [282.1, 68.1], [282.9, 63.7], [283.6, 61.2], [284.4, 61.6], [285.1, 67.8], [285.9, 65.3],
    [286.7, 64.7], [287.4, 62.8], [288.2, 64.7], [288.9, 67.8], [289.4, 68.9], [290.1, 65.6], [290.7, 61.2],
    [291.5, 59.7], [292.3, 58.1], [293.0, 59.4], [293.8, 60.9], [294.5, 60.3], [295.3, 59.4], [296.1, 58.8],
    [296.8, 59.4], [297.6, 59.5], [298.3, 58.1], [299.1, 56.9], [299.8, 56.9], [300.6, 56.3], [301.4, 55.7],
    [302.1, 55.0], [302.9, 57.2], [303.6, 57.8], [304.4, 59.4], [305.1, 58.4], [305.9, 57.8], [306.7, 58.8],
    [307.4, 57.8], [308.2, 57.8], [308.9, 56.6], [309.7, 57.5], [310.4, 54.6], [311.2, 64.0], [311.7, 60.6],
    [312.3, 56.0], [312.9, 60.6], [313.5, 61.6], [314.2, 63.1], [315.0, 65.6], [315.6, 70.2], [316.2, 66.8],
    [316.8, 65.0], [317.6, 63.7], [318.3, 64.3], [319.1, 62.8], [319.8, 63.7], [320.6, 65.3], [321.0, 67.9],
    [321.5, 65.3], [322.3, 64.0], [323.0, 63.7], [323.8, 63.1], [324.5, 65.1], [325.3, 64.3], [326.0, 64.7],
    [326.8, 63.7], [327.6, 63.4], [328.3, 61.2], [328.9, 60.6], [329.7, 63.1], [330.4, 63.1], [331.2, 63.3],
    [332.0, 61.2], [332.7, 60.0], [333.5, 58.8], [334.2, 59.1], [335.0, 60.3], [335.7, 60.9], [336.5, 60.0],
    [337.3, 60.9], [338.0, 60.6], [338.8, 59.4], [339.5, 58.1], [340.3, 59.7], [341.0, 56.9], [341.8, 60.0],
    [342.6, 61.2], [343.3, 61.9], [344.1, 62.5], [344.8, 58.8], [345.6, 58.4], [346.4, 58.1], [347.1, 59.4],
    [347.9, 57.5], [348.6, 56.9], [349.4, 58.1], [350.1, 59.4], [350.9, 61.9], [351.7, 62.2], [352.4, 61.2],
    [353.2, 59.1], [353.9, 58.1], [354.7, 56.9], [355.4, 56.6], [356.2, 56.3], [357.0, 56.0], [357.7, 55.7],
    [358.5, 55.0], [359.2, 54.4], [360.0, 57.2], [360.7, 56.3], [361.5, 55.0], [362.3, 53.8], [363.0, 56.0],
    [363.8, 55.0], [364.5, 54.7], [365.3, 54.4], [366.0, 54.7], [366.8, 53.8], [367.6, 52.7], [368.3, 53.2],
    [369.1, 54.4], [369.8, 53.8], [370.6, 53.5], [371.3, 54.1], [372.1, 55.7], [372.9, 56.0], [373.6, 53.8],
    [374.4, 54.4], [375.1, 55.7], [375.9, 55.0], [376.7, 54.7], [377.4, 55.0], [378.2, 55.7], [378.9, 55.7],
    [379.7, 57.2], [380.4, 57.2], [381.2, 55.7], [382.0, 53.8], [382.7, 53.9], [383.5, 53.8], [384.2, 53.2],
    [385.0, 53.8], [385.7, 53.6], [386.5, 53.3], [387.3, 53.2], [388.0, 53.8], [388.8, 56.9], [389.5, 57.8],
    [390.3, 56.3], [391.0, 53.5], [391.8, 52.9], [392.6, 53.5], [393.3, 53.2], [394.1, 53.5], [394.8, 54.1],
    [395.6, 54.7], [396.3, 56.3], [397.1, 56.3], [397.6, 55.0], [398.3, 58.1], [399.1, 58.3], [400.0, 56.6],
])

ev_0923 = np.array([
    [0, 56.1], [1.1, 55.9], [2.0, 55.2], [2.7, 55.0], [3.5, 54.1], [4.2, 55.2], [5.0, 56.3], [5.7, 56.1],
    [6.5, 57.4], [7.2, 58.2], [8.0, 57.8], [8.7, 58.6], [9.5, 59.7], [10.1, 58.9], [10.7, 55.2], [11.3, 58.9],
    [11.9, 59.1], [12.8, 56.7], [13.7, 55.9], [14.6, 56.3], [15.5, 56.5], [16.1, 54.4], [17.0, 54.8],
    [17.9, 55.2], [18.8, 54.4], [19.7, 52.7], [20.6, 53.1], [21.5, 52.6], [22.4, 52.6], [23.3, 53.7],
    [24.2, 55.2], [24.8, 54.4], [25.6, 53.3], [26.3, 54.8], [27.2, 55.0], [28.1, 54.4], [28.9, 55.2],
    [29.6, 53.3], [30.5, 54.4], [31.4, 53.3], [32.0, 55.8], [32.9, 52.9], [33.7, 56.7], [34.4, 57.3],
    [35.3, 54.4], [36.2, 52.2], [37.1, 53.7], [38.0, 54.8], [38.8, 53.1], [39.5, 54.1], [40.4, 52.6],
    [41.3, 53.3], [42.1, 52.2], [42.8, 52.9], [43.7, 51.4], [44.5, 52.9], [45.1, 55.9], [45.8, 51.8],
    [46.7, 51.2], [47.6, 51.8], [48.5, 52.2], [49.4, 53.7], [50.3, 55.2], [51.2, 60.3], [52.0, 57.1],
    [52.7, 55.0], [53.5, 57.1], [54.2, 55.2], [55.0, 56.3], [55.7, 56.5], [56.5, 54.8], [57.2, 53.9],
    [58.0, 54.6], [58.7, 54.8], [59.5, 53.7], [60.2, 52.9], [61.0, 54.1], [61.7, 54.6], [62.5, 55.2],
    [63.2, 55.9], [64.0, 56.1], [64.8, 54.1], [65.2, 59.7], [65.8, 61.4], [66.4, 60.8], [67.2, 65.7],
    [67.8, 67.8], [68.4, 62.7], [69.0, 67.2], [69.6, 67.2], [70.2, 67.2], [70.8, 62.7], [71.4, 58.2],
    [72.1, 58.9], [72.9, 60.5], [73.6, 60.5], [74.4, 58.9], [75.2, 58.2], [75.9, 58.9], [76.7, 58.2],
    [77.4, 57.4], [78.0, 60.1], [78.6, 54.4], [79.2, 63.3], [79.8, 53.3], [80.4, 54.4], [81.1, 56.7],
    [81.7, 56.9], [82.5, 57.4], [83.2, 62.0], [83.8, 69.3], [84.4, 60.1], [85.0, 53.3], [85.6, 58.9],
    [86.2, 55.9], [86.8, 57.8], [87.4, 57.1], [88.0, 55.9], [88.6, 56.3], [89.3, 55.6], [89.9, 54.4],
    [90.5, 52.7], [91.1, 55.6], [91.8, 54.8], [92.6, 55.6], [93.3, 54.6], [94.1, 55.2], [94.8, 55.9],
    [95.6, 55.2], [96.3, 56.3], [97.1, 56.7], [97.8, 55.9], [98.6, 57.1], [99.3, 56.7], [100.1, 57.1],
    [100.8, 58.6], [101.6, 58.9], [102.3, 57.8], [103.1, 55.9], [103.8, 55.4], [104.6, 54.6], [105.3, 54.2],
    [106.1, 55.2], [106.8, 55.6], [107.6, 57.8], [108.4, 56.7], [109.1, 55.6], [109.9, 56.3], [110.6, 55.9],
    [111.4, 55.9], [112.1, 55.9], [112.9, 56.9], [113.6, 57.8], [114.4, 57.1], [115.1, 57.8], [115.9, 55.9],
    [116.6, 58.0], [117.4, 56.7], [118.1, 56.3], [118.9, 56.7], [119.6, 57.1], [120.4, 57.6], [121.1, 56.9],
    [121.9, 56.3], [122.6, 55.2], [123.4, 58.2], [124.2, 59.7], [124.9, 58.9], [125.7, 60.5], [126.4, 61.6],
    [127.2, 63.5], [127.9, 62.7], [128.7, 62.3], [129.4, 62.7], [130.2, 64.8], [130.9, 62.0], [131.7, 60.5],
    [132.4, 64.2], [133.2, 67.2], [133.9, 68.9], [134.7, 68.0], [135.4, 69.7], [136.2, 68.7], [136.9, 66.8],
    [137.7, 65.9], [138.4, 66.5], [139.2, 68.7], [139.9, 74.4], [140.7, 67.2], [141.5, 68.7], [142.2, 68.0],
    [143.0, 75.1], [143.7, 67.6], [144.3, 77.7], [144.9, 73.2], [145.5, 70.6], [146.1, 75.9], [146.7, 76.4],
    [147.3, 77.0], [147.9, 79.2], [148.5, 77.7], [149.1, 80.8], [149.7, 75.9], [150.3, 82.4], [150.9, 81.1],
    [151.5, 78.5], [152.1, 74.4], [152.7, 76.6], [153.3, 75.1], [153.9, 72.9], [154.7, 72.5], [155.4, 75.5],
    [156.2, 74.4], [156.9, 71.7], [157.7, 74.7], [158.4, 74.7], [159.2, 72.5], [159.9, 73.2], [160.7, 70.6],
    [161.4, 72.5], [162.2, 67.2], [163.0, 71.4], [163.7, 74.0], [164.5, 73.6], [165.2, 69.8], [166.0, 66.8],
    [166.7, 68.0], [167.5, 66.5], [168.2, 67.2], [169.0, 65.0], [169.7, 64.2], [170.5, 66.1], [171.2, 67.8],
    [172.0, 63.8], [172.7, 65.7], [173.5, 64.2], [174.3, 60.5], [175.0, 62.7], [175.8, 64.2], [176.5, 63.1],
    [177.3, 64.6], [178.0, 59.3], [178.8, 62.3], [179.5, 66.5], [180.3, 69.5], [181.0, 65.0], [181.8, 62.3],
    [182.5, 63.5], [183.3, 65.0], [184.0, 66.1], [184.8, 65.0], [185.5, 63.8], [186.3, 65.3], [187.1, 67.6],
    [187.8, 66.5], [188.6, 64.2], [189.3, 62.7], [190.1, 66.8], [190.8, 69.3], [191.6, 65.7], [192.3, 64.2],
    [193.1, 71.7], [193.8, 67.2], [194.6, 66.5], [195.3, 64.2], [196.1, 62.7], [196.8, 67.6], [197.3, 68.7],
    [198.0, 66.5], [198.8, 69.5], [199.6, 64.6], [200.3, 65.7], [201.1, 68.7], [201.8, 66.8], [202.6, 65.0],
    [203.3, 67.2], [204.1, 66.5], [204.9, 67.6], [205.6, 66.8], [206.4, 68.0], [207.1, 65.7], [207.9, 64.2],
    [208.7, 65.0], [209.4, 63.5], [210.2, 62.7], [210.9, 63.5], [211.7, 64.6], [212.5, 64.2], [213.2, 66.5],
    [214.0, 67.6], [214.7, 64.2], [215.5, 65.0], [216.2, 61.2], [217.0, 69.5], [217.8, 65.3], [218.5, 60.8],
    [219.3, 58.6], [220.0, 61.2], [220.8, 62.3], [221.6, 63.1], [222.3, 65.0], [223.1, 61.2], [223.8, 63.5],
    [224.6, 65.0], [225.3, 62.7], [226.1, 70.2], [226.9, 65.7], [227.6, 64.6], [228.4, 64.2], [229.1, 61.2],
    [229.9, 59.3], [230.7, 68.3], [231.4, 65.7], [232.2, 62.7], [232.9, 60.1], [233.7, 60.5], [234.4, 58.9],
    [235.2, 65.7], [236.0, 64.2], [236.7, 63.5], [237.5, 64.6], [238.2, 62.0], [239.0, 58.2], [239.8, 57.4],
    [240.5, 55.9], [241.3, 55.2], [242.0, 55.9], [242.8, 55.9], [243.6, 58.9], [244.3, 58.2], [245.1, 59.7],
    [245.8, 60.5], [246.6, 61.2], [247.3, 60.8], [248.1, 61.2], [248.9, 60.1], [249.6, 61.2], [250.4, 61.6],
    [251.1, 59.7], [251.9, 58.2], [252.7, 57.4], [253.4, 59.3], [254.2, 58.9], [254.9, 57.4], [255.7, 57.1],
    [256.4, 56.3], [257.2, 55.6], [258.0, 57.1], [258.7, 58.6], [259.5, 55.9], [260.2, 56.3], [261.0, 58.2],
    [261.8, 59.3], [262.5, 57.4], [263.3, 58.6], [264.0, 59.7], [264.8, 58.9], [265.5, 59.7], [266.3, 58.6],
    [267.1, 59.3], [267.8, 58.9], [268.6, 58.2], [269.3, 57.4], [270.1, 57.8], [270.9, 59.7], [271.6, 59.3],
    [272.4, 57.1], [273.1, 60.1], [273.9, 61.2], [274.6, 59.7], [275.4, 60.8], [276.2, 61.2], [276.9, 61.6],
    [277.7, 62.0], [278.4, 62.7], [279.2, 58.6], [280.0, 57.4], [280.7, 61.2], [281.5, 63.5], [281.9, 66.5],
    [282.7, 62.0], [283.4, 60.5], [284.2, 62.0], [285.0, 63.1], [285.7, 61.2], [286.5, 59.7], [287.2, 57.8],
    [288.0, 56.3], [288.8, 58.2], [289.5, 56.7], [290.3, 61.2], [290.9, 62.7], [291.6, 59.3], [292.4, 60.8],
    [293.2, 63.8], [293.9, 59.7], [294.7, 57.8], [295.4, 57.8], [296.2, 57.4], [296.9, 54.4], [297.7, 57.4],
    [298.5, 57.8], [299.2, 55.2], [300.0, 55.9], [300.7, 57.8], [301.5, 55.2], [302.3, 54.1], [303.0, 54.1],
    [303.8, 55.2], [304.5, 55.6], [305.3, 55.2], [306.0, 55.9], [306.8, 56.3], [307.6, 56.7], [308.3, 57.8],
    [309.1, 58.6], [309.8, 59.3], [310.6, 60.3], [311.4, 60.5], [312.1, 61.2], [312.9, 59.7], [313.6, 61.2],
    [314.4, 59.7], [315.2, 57.1], [315.9, 60.1], [316.7, 58.9], [317.4, 59.7], [318.2, 58.2], [318.9, 64.2],
    [319.7, 63.5], [320.5, 65.7], [321.2, 64.2], [321.7, 67.6], [322.4, 64.2], [323.2, 62.7], [323.9, 62.0],
    [324.7, 59.7], [325.5, 55.6], [326.2, 62.3], [327.0, 60.5], [327.7, 57.4], [328.5, 56.3], [329.3, 58.9],
    [330.0, 56.7], [330.8, 58.9], [331.5, 57.1], [332.3, 58.9], [333.1, 58.6], [333.8, 59.3], [334.6, 57.1],
    [335.3, 55.9], [336.1, 55.2], [336.8, 58.2], [337.6, 58.2], [338.4, 60.5], [339.1, 62.0], [339.9, 63.6],
    [340.6, 62.3], [341.4, 59.7], [342.2, 61.6], [342.9, 61.2], [343.7, 58.9], [344.4, 56.7], [345.2, 60.1],
    [345.9, 59.7], [346.7, 57.4], [347.5, 60.1], [348.2, 59.3], [349.0, 58.2], [349.7, 58.9], [350.5, 58.2],
    [351.3, 59.3], [352.0, 61.6], [352.8, 58.9], [353.5, 60.8], [354.3, 61.2], [355.0, 59.7], [355.8, 60.1],
    [356.6, 58.6], [357.3, 57.1], [358.1, 57.4], [358.8, 57.1], [359.6, 57.1], [360.4, 55.2], [361.1, 58.6],
    [361.9, 59.3], [362.6, 57.8], [363.4, 55.9], [364.2, 58.2], [364.9, 58.6], [365.7, 59.3], [366.4, 60.1],
    [367.2, 57.4], [367.9, 55.9], [368.7, 56.3], [369.5, 56.1], [370.2, 57.8], [371.0, 57.4], [371.7, 55.2],
    [372.5, 55.6], [373.3, 55.9], [374.0, 55.2], [374.8, 55.2], [375.5, 53.3], [376.3, 53.7], [377.0, 53.9],
    [377.8, 53.9], [378.6, 53.7], [379.3, 53.5], [380.1, 53.3], [380.8, 55.2], [381.6, 56.7], [382.4, 57.4],
    [383.1, 55.6], [383.9, 56.7], [384.6, 55.2], [385.4, 56.3], [386.1, 55.2], [386.9, 57.1], [387.7, 56.7],
    [388.4, 55.9], [389.2, 54.8], [389.9, 55.2], [390.7, 55.6], [391.5, 56.3], [392.2, 58.2], [393.0, 57.1],
    [393.7, 56.3], [394.5, 57.4], [395.2, 55.9], [396.0, 55.9], [396.8, 57.4], [397.5, 58.6], [398.3, 57.1],
    [399.0, 55.9], [399.5, 55.2], [400.0, 56.3],
])

first_sample = ['2022-08-18 07:31:50', '2022-08-18 08:04:30', '2022-08-18 08:20:50',
                '2022-08-18 09:02:30', '2022-08-18 09:18:50']
titles = ['Hunter Street  18/08/2022  07:36   Landing',
          'Hunter Street  18/08/2022  08:07   Take Off',
          'Hunter Street  18/08/2022  08:25   Landing',
          'Hunter Street  18/08/2022  09:05   Take Off',
          'Hunter Street  18/08/2022  09:23   Landing']
event_window = [('07:34:00', '07:37:00'), ('08:06:30', '08:09:25'), ('08:23:00', '08:26:00'),
                ('09:04:30', '09:07:25'), ('09:21:00', '09:24:00')]
y_breaks = [[55, 60, 65, 70, 75], [55, 60, 65, 70, 75], [55, 60, 65, 70, 75],
            [60, 70], [50, 60, 70, 80]]
criterion_db = 77

series = [ev_0736, ev_0807, ev_0825, ev_0905, ev_0923]

W, H = 1166, 1802
fig = plt.figure(figsize=(W / 100, H / 100), dpi=100)

# panel box runs just past the right edge of the canvas
x0, x1 = 47.6, 1167.5
panel_h = 305.0
tops = [31.7 + i * 361.75 for i in range(5)]

dark = '#333333'
grid = '#EBEBEB'

for i, data in enumerate(series):
    top = tops[i]
    ax = fig.add_axes([x0 / W, 1 - (top + panel_h) / H, (x1 - x0) / W, panel_h / H])

    start = pd.Timestamp(first_sample[i])
    times = (start + pd.to_timedelta(data[:, 0], unit='s')).to_numpy()
    lv = data[:, 1]

    ax.plot(times, lv, color='black', lw=0.75, zorder=3)

    ax.axhline(criterion_db, color='#FF0000', lw=2.0, dashes=(3.6, 3.6), zorder=4)
    day = first_sample[i][:10]
    for mark in event_window[i]:
        ax.axvline(pd.Timestamp(day + ' ' + mark).to_numpy(), color='#0000FF',
                   lw=2.0, dashes=(3.6, 3.6), zorder=4)

    ax.xaxis.set_major_locator(mdates.MinuteLocator(byminute=range(0, 60, 2)))
    ax.xaxis.set_minor_locator(mdates.MinuteLocator())
    ax.xaxis.set_major_formatter(mdates.DateFormatter('%H:%M'))

    br = y_breaks[i]
    step = br[1] - br[0]
    ax.set_yticks(br)
    ax.set_yticks([b - step / 2 for b in br] + [br[-1] + step / 2], minor=True)

    # ggplot-style 5% expansion on both axes (set after ticks so they don't widen it)
    span = data[-1, 0] - data[0, 0]
    pad = pd.to_timedelta(0.05 * span, unit='s')
    ax.set_xlim((start - pad).to_numpy(), (start + pd.to_timedelta(span, unit='s') + pad).to_numpy())
    lo, hi = lv.min(), lv.max()
    ax.set_ylim(lo - 0.05 * (hi - lo), hi + 0.05 * (hi - lo))

    ax.grid(which='major', color=grid, lw=1.0, zorder=0)
    ax.grid(which='minor', color=grid, lw=0.6, zorder=0)
    ax.set_axisbelow(True)

    ax.tick_params(which='major', length=2.65, width=0.8, color=dark, pad=2.1,
                   labelsize=8.45, labelcolor='#4D4D4D')
    ax.tick_params(which='minor', length=0)
    for sp in ax.spines.values():
        sp.set_color(dark)
        sp.set_linewidth(1.0)

    ax.set_title(titles[i], loc='left', pad=6.5, fontsize=12.7, color='black')
    ax.set_ylabel('LAmax', fontsize=10.5, color='black')
    ax.yaxis.set_label_coords(-0.019, 0.5)

fig.savefig('out.png', dpi=100, facecolor='white')
